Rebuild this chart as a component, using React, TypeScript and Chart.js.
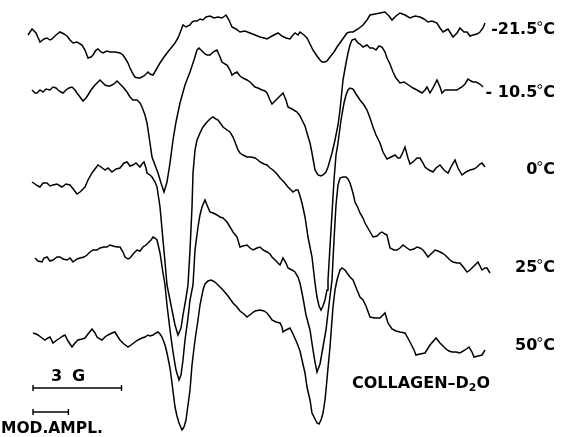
import React, { useEffect, useRef } from "react";
import { Chart, registerables } from "chart.js";

Chart.register(...registerables);

// Field position (chart units, 29.5 units = 1 G) vs. displaced signal (stacked, downward positive)
const traceM21_5: [number, number][] = [
  [28,35],[32,29],[36,33],[40,42],[44,39],[47,38],[50,40],[52,39],[56,35],[60,32],[64,34],[67,36],[70,40],[73,43],[77,42],[82,45],[85,50],[88,58],[91,57],[93,55],[96,50],[98,49],[101,52],[103,53],[107,51],[110,52],[115,52],[120,53],[123,55],[125,58],[128,63],[130,68],[133,74],[135,77],[138,78],[140,78],[144,76],[148,72],[150,74],[153,75],[156,70],[160,63],[164,57],[167,53],[171,48],[175,43],[178,38],[180,33],[183,25],[186,27],[190,25],[192,22],[194,21],[197,21],[200,19],[203,20],[206,17],[210,16],[214,18],[218,17],[222,18],[226,15],[229,20],[232,27],[236,29],[240,32],[245,31],[250,33],[255,35],[260,37],[264,38],[267,39],[272,36],[278,33],[282,36],[286,38],[290,39],[293,35],[295,33],[298,35],[300,32],[304,35],[307,38],[310,44],[313,50],[317,56],[320,60],[322,62],[325,62],[327,61],[330,57],[334,52],[337,47],[342,40],[347,33],[350,32],[353,32],[358,29],[363,25],[367,20],[370,15],[375,14],[380,13],[385,12],[389,16],[392,20],[396,16],[400,13],[405,15],[410,18],[415,16],[420,17],[424,19],[428,22],[432,21],[437,23],[440,28],[443,32],[448,29],[453,37],[457,33],[460,28],[464,32],[467,32],[470,36],[473,35],[477,34],[480,32],[483,28],[485,23]
];
const traceM10_5: [number, number][] = [
  [32,90],[35,93],[37,93],[40,90],[43,92],[46,89],[50,90],[53,87],[56,88],[58,90],[61,92],[63,93],[66,90],[69,88],[72,87],[75,90],[77,93],[80,97],[83,101],[86,98],[88,95],[91,90],[95,85],[98,82],[100,80],[103,83],[105,85],[108,86],[110,86],[114,84],[117,81],[120,84],[123,87],[127,92],[130,97],[133,100],[137,100],[140,103],[142,107],[145,115],[147,123],[150,143],[152,157],[155,165],[158,173],[161,183],[164,192],[167,182],[170,163],[173,140],[176,122],[180,103],[185,85],[190,72],[194,60],[197,50],[199,48],[202,51],[205,54],[207,55],[210,55],[212,53],[215,51],[217,50],[220,57],[222,62],[225,64],[227,65],[230,70],[232,75],[235,73],[237,72],[240,76],[243,78],[247,80],[250,82],[253,85],[255,87],[258,88],[262,90],[265,91],[267,93],[270,100],[272,104],[275,101],[278,98],[281,95],[283,93],[286,100],[288,107],[292,109],[297,112],[300,116],[302,120],[305,126],[307,133],[310,143],[312,153],[315,170],[318,175],[321,176],[323,175],[326,172],[328,167],[330,160],[332,153],[335,140],[338,125],[340,110],[343,80],[346,63],[348,53],[350,45],[352,40],[355,39],[358,43],[360,44],[363,47],[367,45],[370,48],[373,48],[376,50],[379,46],[382,47],[385,52],[387,58],[390,64],[393,72],[396,78],[400,83],[404,82],[407,84],[410,86],[413,88],[417,90],[422,93],[425,90],[427,87],[430,93],[433,88],[437,80],[440,87],[442,93],[445,90],[448,90],[452,90],[457,90],[460,88],[462,87],[465,84],[468,79],[471,81],[473,82],[476,82],[478,83],[481,85],[483,87]
];
const trace0: [number, number][] = [
  [32,182],[35,184],[38,186],[40,187],[43,183],[47,183],[50,186],[53,185],[57,184],[62,187],[66,184],[70,185],[74,190],[77,194],[80,192],[85,187],[88,180],[92,173],[95,169],[98,165],[101,167],[105,170],[108,168],[112,172],[116,169],[120,168],[124,163],[127,162],[130,166],[133,165],[136,163],[140,167],[142,164],[144,162],[146,168],[147,173],[150,175],[152,177],[155,182],[157,187],[160,207],[163,240],[165,262],[167,285],[170,300],[172,310],[175,325],[178,335],[181,328],[183,315],[186,298],[188,285],[190,250],[192,207],[193,173],[195,150],[197,140],[200,133],[203,127],[207,122],[210,119],[213,117],[216,119],[218,120],[221,124],[223,127],[227,130],[230,132],[233,137],[235,142],[238,150],[240,153],[243,155],[247,157],[251,157],[255,158],[258,160],[260,162],[264,164],[267,165],[270,168],[273,170],[277,174],[280,178],[284,182],[288,187],[291,190],[293,192],[296,190],[298,190],[300,196],[302,203],[305,217],[308,237],[312,257],[315,283],[317,297],[319,306],[321,310],[323,306],[325,300],[327,290],[328,280],[331,230],[334,180],[336,155],[338,143],[341,120],[344,103],[346,95],[348,90],[350,88],[353,89],[356,94],[360,100],[364,105],[367,110],[370,118],[373,127],[376,135],[380,143],[383,152],[387,159],[391,157],[395,155],[398,158],[400,158],[403,152],[405,147],[408,158],[410,164],[414,161],[417,158],[420,158],[423,163],[425,167],[429,170],[433,172],[436,168],[440,165],[444,170],[448,173],[452,165],[455,160],[458,168],[462,175],[466,172],[470,170],[474,169],[477,167],[480,164],[482,163],[485,167]
];
const trace25: [number, number][] = [
  [35,258],[38,261],[42,262],[44,258],[47,257],[50,261],[53,260],[57,257],[60,257],[63,259],[67,260],[70,258],[73,262],[77,259],[80,258],[84,257],[87,255],[90,252],[93,250],[97,250],[100,248],[104,247],[107,247],[110,245],[113,246],[117,247],[120,247],[123,252],[125,257],[128,259],[130,258],[134,253],[137,250],[140,251],[143,247],[146,245],[148,243],[151,240],[153,237],[155,238],[157,240],[160,253],[163,273],[165,285],[167,305],[170,330],[173,352],[176,370],[179,380],[181,375],[183,360],[185,340],[188,318],[190,300],[193,285],[195,250],[198,227],[200,215],[202,207],[205,200],[207,205],[210,212],[213,213],[217,215],[220,217],[223,218],[227,222],[230,227],[233,232],[237,237],[240,247],[243,246],[247,245],[250,248],[253,250],[257,248],[260,247],[263,250],[267,252],[270,254],[272,257],[276,261],[280,265],[283,258],[286,263],[288,268],[292,270],[295,272],[298,277],[300,283],[303,298],[306,315],[310,330],[313,350],[315,362],[317,372],[320,364],[323,347],[326,330],[328,313],[332,280],[334,240],[336,205],[338,185],[340,178],[343,177],[346,177],[348,179],[350,183],[353,193],[355,202],[358,208],[360,213],[363,218],[365,223],[369,230],[373,237],[377,236],[380,233],[382,232],[385,234],[387,235],[390,248],[394,250],[397,250],[400,248],[403,245],[407,248],[410,250],[414,249],[417,247],[420,248],[423,250],[426,254],[428,257],[431,254],[435,250],[438,251],[442,253],[445,255],[448,258],[451,261],[453,262],[457,263],[460,263],[464,268],[467,272],[470,270],[473,267],[476,264],[478,262],[480,266],[482,270],[485,268],[487,268],[490,273]
];
const trace50: [number, number][] = [
  [33,333],[36,334],[38,335],[42,338],[45,340],[48,338],[50,337],[53,343],[57,340],[60,338],[63,336],[65,335],[68,341],[72,347],[75,343],[78,340],[82,339],[85,338],[88,334],[92,329],[95,333],[97,337],[100,339],[102,340],[105,337],[108,335],[112,333],[115,332],[118,337],[120,340],[124,344],[128,347],[131,345],[135,342],[138,340],[142,338],[145,337],[148,335],[150,336],[153,335],[156,333],[158,332],[160,334],[162,337],[165,345],[167,353],[170,368],[172,383],[175,407],[177,416],[179,423],[182,430],[184,427],[186,420],[188,405],[190,390],[192,365],[195,340],[198,320],[200,305],[203,290],[205,284],[208,281],[211,280],[213,281],[215,282],[219,286],[223,290],[228,296],[233,303],[237,307],[240,311],[244,314],[247,317],[251,314],[255,311],[260,310],[264,311],[267,313],[270,317],[272,320],[276,322],[280,323],[282,327],[283,332],[286,330],[290,328],[293,334],[297,343],[300,351],[302,360],[305,373],[307,387],[310,400],[312,413],[315,419],[317,423],[319,424],[321,420],[323,413],[325,400],[326,390],[328,368],[330,347],[332,320],[333,307],[335,290],[337,280],[340,270],[342,268],[345,270],[347,273],[350,277],[353,280],[357,290],[360,297],[363,300],[366,306],[370,317],[375,318],[380,318],[385,313],[388,323],[392,329],[396,331],[400,332],[405,333],[410,342],[414,350],[416,355],[420,354],[425,353],[430,345],[436,338],[440,343],[443,346],[446,349],[449,351],[452,352],[456,352],[460,353],[465,350],[469,347],[472,352],[474,357],[478,356],[482,355],[485,350]
];

const seriesLabels = ["-21.5°C", "- 10.5°C", "0°C", "25°C", "50°C"];
const seriesTraces = [traceM21_5, traceM10_5, trace0, trace25, trace50];
const sampleLabel = "COLLAGEN–D";
const scaleBarGauss = 3;
const modAmplGauss = 1.2;
const unitsPerGauss = 29.5;

// layout (chart units)
const labelRight = 555;
const labelY = [30, 93, 170, 268, 346];
const FONT = "'DejaVu Sans', 'Liberation Sans', sans-serif";

export default function App() {
  const ref = useRef<HTMLCanvasElement | null>(null);
  useEffect(() => {
    document.body.style.margin = "0";
    const canvas = ref.current!;
    const annot = {
      id: "annot",
      afterDraw(chart: any) {
        const { ctx } = chart;
        const xs = chart.scales.x;
        const ys = chart.scales.y;
        ctx.save();
        ctx.fillStyle = "#000";
        ctx.strokeStyle = "#000";
        ctx.textBaseline = "middle";
        ctx.font = `bold 16px ${FONT}`;
        seriesLabels.forEach((t, i) => {
          const parts = t.split("°");
          const xr = xs.getPixelForValue(labelRight);
          const y = ys.getPixelForValue(labelY[i]);
          ctx.textAlign = "right";
          const cw = ctx.measureText(parts[1]).width;
          ctx.fillText(parts[1], xr, y);
          ctx.lineWidth = 1;
          ctx.beginPath();
          ctx.arc(xr - cw - 3.5, y - 6.5, 1.9, 0, Math.PI * 2);
          ctx.stroke();
          ctx.fillText(parts[0], xr - cw - 6, y);
        });
        // sample label
        ctx.textAlign = "left";
        ctx.font = `bold 16px ${FONT}`;
        const sx = xs.getPixelForValue(352);
        const sy = ys.getPixelForValue(384);
        ctx.fillText(sampleLabel, sx, sy);
        const w1 = ctx.measureText(sampleLabel).width;
        ctx.font = `bold 11px ${FONT}`;
        ctx.fillText("2", sx + w1, sy + 4);
        const w2 = ctx.measureText("2").width;
        ctx.font = `bold 16px ${FONT}`;
        ctx.fillText("O", sx + w1 + w2, sy);
        // scale bars
        const bar = (x0: number, len: number, yv: number) => {
          const a = xs.getPixelForValue(x0);
          const b = xs.getPixelForValue(x0 + len);
          const y = ys.getPixelForValue(yv);
          ctx.lineWidth = 1.4;
          ctx.beginPath();
          ctx.moveTo(a, y); ctx.lineTo(b, y);
          ctx.moveTo(a, y - 3); ctx.lineTo(a, y + 3);
          ctx.moveTo(b, y - 3); ctx.lineTo(b, y + 3);
          ctx.stroke();
        };
        bar(33, scaleBarGauss * unitsPerGauss, 388);
        bar(33, modAmplGauss * unitsPerGauss, 412);
        ctx.font = `bold 16px ${FONT}`;
        ctx.textAlign = "left";
        ctx.fillText("3", xs.getPixelForValue(51), ys.getPixelForValue(377));
        ctx.fillText("G", xs.getPixelForValue(72), ys.getPixelForValue(377));
        ctx.font = `bold 15.5px ${FONT}`;
        ctx.fillText("MOD.AMPL.", xs.getPixelForValue(1), ys.getPixelForValue(429));
        ctx.restore();
      },
    };
    const chart = new Chart(canvas, {
      type: "scatter",
      data: {
        datasets: seriesTraces.map((tr, i) => ({
          label: seriesLabels[i],
          data: tr.map(([x, y]) => ({ x, y })),
          showLine: true,
          borderColor: "#000",
          borderWidth: 1.5,
          pointRadius: 0,
          tension: 0,
          fill: false,
        })),
      },
      options: {
        animation: false,
        responsive: false,
        layout: { padding: 0 },
        plugins: { legend: { display: false }, tooltip: { enabled: false } },
        scales: {
          x: { type: "linear", min: 0, max: 569, display: false },
          y: { type: "linear", min: 0, max: 437, reverse: true, display: false },
        },
      },
      plugins: [annot],
    });
    return () => chart.destroy();
  }, []);
  return (
    <div style={{ position: "fixed", left: 0, top: 0, width: 569, height: 437, background: "#fff" }}>
      <canvas ref={ref} width={569} height={437} style={{ width: 569, height: 437 }} />
    </div>
  );
}
